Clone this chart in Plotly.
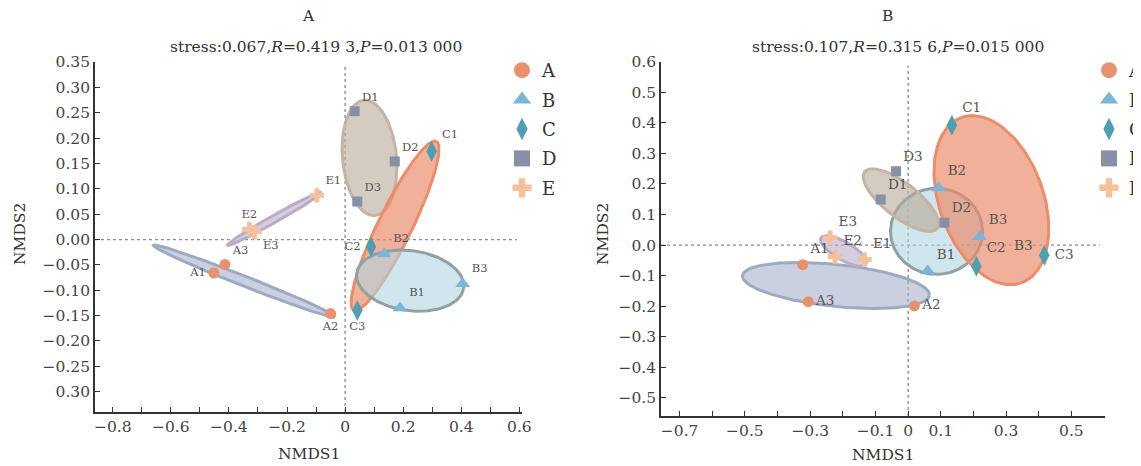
import numpy as np
import plotly.graph_objects as go

W, H = 1141, 466
OFF = 8  # page body margin: shift layout so it lines up with the window
SERIF = "DejaVu Serif"

# ---------------- data ----------------
groups = ["A", "B", "C", "D", "E"]
sample_ids = ["1", "2", "3"]

# Panel A (left) NMDS scores, samples 1,2,3
left_A_x = [-0.452, -0.050, -0.414]
left_A_y = [-0.066, -0.146, -0.049]
left_B_x = [0.189, 0.134, 0.405]
left_B_y = [-0.135, -0.028, -0.087]
left_C_x = [0.298, 0.089, 0.042]
left_C_y = [0.174, -0.014, -0.140]
left_D_x = [0.033, 0.171, 0.042]
left_D_y = [0.253, 0.154, 0.075]
left_E_x = [-0.097, -0.330, -0.312]
left_E_y = [0.087, 0.020, 0.015]

# Panel B (right) NMDS scores, samples 1,2,3
right_A_x = [-0.323, 0.019, -0.306]
right_A_y = [-0.064, -0.199, -0.185]
right_B_x = [0.060, 0.093, 0.219]
right_B_y = [-0.085, 0.187, 0.027]
right_C_x = [0.134, 0.209, 0.417]
right_C_y = [0.392, -0.069, -0.033]
right_D_x = [-0.084, 0.111, -0.037]
right_D_y = [0.149, 0.073, 0.242]
right_E_x = [-0.134, -0.224, -0.239]
right_E_y = [-0.047, -0.038, 0.024]

# group ellipses: centre (data), semi-axes (px), angle (deg)
left_ell_cx = {"A": -0.347, "B": 0.224, "C": 0.172, "D": 0.084, "E": -0.243}
left_ell_cy = {"A": -0.082, "B": -0.081, "C": 0.027, "D": 0.161, "E": 0.041}
left_ell_a = {"A": 97.7, "B": 54, "C": 94, "D": 58, "E": 54}
left_ell_b = {"A": 5, "B": 30, "C": 17, "D": 27, "E": 3.5}
left_ell_ang = {"A": -21.5, "B": -8, "C": 64, "D": 95.5, "E": 29.4}

right_ell_cx = {"A": -0.221, "B": 0.087, "C": 0.255, "D": -0.022, "E": -0.198}
right_ell_cy = {"A": -0.132, "B": 0.045, "C": 0.147, "D": 0.147, "E": -0.019}
right_ell_a = {"A": 94, "B": 46, "C": 88, "D": 46, "E": 26}
right_ell_b = {"A": 21, "B": 43, "C": 52, "D": 17, "E": 9}
right_ell_ang = {"A": -6, "B": 0, "C": 110, "D": -38, "E": -30}

# tick labels
left_xticks = [-0.8, -0.7, -0.6, -0.5, -0.4, -0.3, -0.2, -0.1, 0.0, 0.1, 0.2, 0.3, 0.4, 0.5, 0.6]
left_xtext = ["−0.8", "", "−0.6", "", "−0.4", "", "−0.2", "", "0", "", "0.2", "", "0.4", "", "0.6"]
left_yticks = [-0.30, -0.25, -0.20, -0.15, -0.10, -0.05, 0.0, 0.05, 0.10, 0.15, 0.20, 0.25, 0.30, 0.35]
left_ytext = ["0.30", "−0.25", "−0.20", "−0.15", "−0.10", "−0.05", "0.00",
              "0.05", "0.10", "0.15", "0.20", "0.25", "0.30", "0.35"]
right_xticks = [-0.7, -0.6, -0.5, -0.4, -0.3, -0.2, -0.1, 0.0, 0.1, 0.2, 0.3, 0.4, 0.5]
right_xtext = ["−0.7", "", "−0.5", "", "−0.3", "", "−0.1", "0", "0.1", "", "0.3", "", "0.5"]
right_yticks = [-0.5, -0.4, -0.3, -0.2, -0.1, 0.0, 0.1, 0.2, 0.3, 0.4, 0.5, 0.6]
right_ytext = ["−0.5", "−0.4", "−0.3", "−0.2", "−0.1", "0.0", "0.1", "0.2", "0.3", "0.4", "0.5", "0.6"]

# ---------------- styles ----------------
marker_color = {"A": "#e8916d", "B": "#7ab5da", "C": "#4f9fb3", "D": "#8890a8", "E": "#f6c09a"}
marker_symbol = {"A": "circle", "B": "triangle-up", "C": "diamond-tall", "D": "square", "E": "cross"}
marker_size = {"A": 11, "B": 13, "C": 15, "D": 10, "E": 12}
ell_fill = {"A": "rgba(168,177,205,0.6)", "B": "rgba(178,214,224,0.6)", "C": "rgba(234,138,104,0.68)",
            "D": "rgba(184,168,152,0.6)", "E": "rgba(188,172,204,0.6)"}
ell_line = {"A": "#9daac2", "B": "#8ea2a4", "C": "#ec8d6a", "D": "#c4b4a4", "E": "#b8adc7"}

left_textpos = {"A": ["middle left", "bottom center", "top right"],
                "B": ["top right", "top right", "top right"],
                "C": ["top right", "middle left", "bottom center"],
                "D": ["top right", "top right", "top right"],
                "E": ["top right", "top center", "bottom right"]}
right_textpos = {"A": ["top right", "middle right", "middle right"],
                 "B": ["top right", "top right", "top right"],
                 "C": ["top right", "top right", "middle right"],
                 "D": ["top right", "top right", "top right"],
                 "E": ["top right", "top right", "top right"]}


def px_x(v):
    return (v - OFF) / W


def px_y(v):
    return 1 - (v - OFF) / H


left_xdom = [px_x(95), px_x(522)]
left_ydom = [px_y(412), px_y(62)]
left_xr = [-0.861, 0.609]
left_yr = [-0.34, 0.35]
right_xdom = [px_x(661), px_x(1105)]
right_ydom = [px_y(416), px_y(61.7)]
right_xr = [-0.757, 0.603]
right_yr = [-0.559, 0.60]

left_pts = {"A": (left_A_x, left_A_y), "B": (left_B_x, left_B_y), "C": (left_C_x, left_C_y),
            "D": (left_D_x, left_D_y), "E": (left_E_x, left_E_y)}
right_pts = {"A": (right_A_x, right_A_y), "B": (right_B_x, right_B_y), "C": (right_C_x, right_C_y),
             "D": (right_D_x, right_D_y), "E": (right_E_x, right_E_y)}


def ellipse(cx, cy, a, b, ang, sx, sy):
    t = np.linspace(0, 2 * np.pi, 181)
    th = np.deg2rad(ang)
    px = a * np.cos(t) * np.cos(th) - b * np.sin(t) * np.sin(th)
    py = a * np.cos(t) * np.sin(th) + b * np.sin(t) * np.cos(th)
    return cx + px / sx, cy + py / sy


fig = go.Figure()

panels = [
    dict(pts=left_pts, cx=left_ell_cx, cy=left_ell_cy, a=left_ell_a, b=left_ell_b, ang=left_ell_ang,
         xdom=left_xdom, ydom=left_ydom, xr=left_xr, yr=left_yr, xa="x", ya="y",
         order=["D", "C", "B", "A", "E"], tpos=left_textpos, tsize=11.5, legend="legend"),
    dict(pts=right_pts, cx=right_ell_cx, cy=right_ell_cy, a=right_ell_a, b=right_ell_b, ang=right_ell_ang,
         xdom=right_xdom, ydom=right_ydom, xr=right_xr, yr=right_yr, xa="x2", ya="y2",
         order=["B", "D", "C", "A", "E"], tpos=right_textpos, tsize=13.5, legend="legend2"),
]

for p in panels:
    sx = (p["xdom"][1] - p["xdom"][0]) * W / (p["xr"][1] - p["xr"][0])
    sy = (p["ydom"][1] - p["ydom"][0]) * H / (p["yr"][1] - p["yr"][0])
    # zero reference lines
    fig.add_trace(go.Scatter(x=[0, 0], y=[p["yr"][0], p["yr"][1] - 0.012 * (p["yr"][1] - p["yr"][0])],
                             mode="lines", line=dict(color="#8a8a8a", width=1.3, dash="dot"),
                             xaxis=p["xa"], yaxis=p["ya"], showlegend=False, hoverinfo="skip"))
    fig.add_trace(go.Scatter(x=[p["xr"][0], p["xr"][1] - 0.012 * (p["xr"][1] - p["xr"][0])], y=[0, 0],
                             mode="lines", line=dict(color="#8a8a8a", width=1.3, dash="dot"),
                             xaxis=p["xa"], yaxis=p["ya"], showlegend=False, hoverinfo="skip"))
    for g in p["order"]:
        ex, ey = ellipse(p["cx"][g], p["cy"][g], p["a"][g], p["b"][g], p["ang"][g], sx, sy)
        fig.add_trace(go.Scatter(x=ex, y=ey, mode="lines", fill="toself", fillcolor=ell_fill[g],
                                 line=dict(color=ell_line[g], width=3), xaxis=p["xa"], yaxis=p["ya"],
                                 showlegend=False, hoverinfo="skip"))
    for g in groups:
        xs, ys = p["pts"][g]
        fig.add_trace(go.Scatter(x=xs, y=ys, mode="markers+text",
                                 text=[g + s for s in sample_ids], textposition=p["tpos"][g],
                                 textfont=dict(family=SERIF, size=p["tsize"], color="#555555"),
                                 marker=dict(symbol=marker_symbol[g], size=marker_size[g],
                                             color=marker_color[g], line=dict(width=0)),
                                 xaxis=p["xa"], yaxis=p["ya"], showlegend=False, name=g))
    for g in groups:
        fig.add_trace(go.Scatter(x=[None], y=[None], mode="markers", name=g,
                                 marker=dict(symbol=marker_symbol[g], size=16, color=marker_color[g]),
                                 xaxis=p["xa"], yaxis=p["ya"], showlegend=True, legend=p["legend"],
                                 legendgroup=p["legend"] + g))

# stray label in panel B
fig.add_annotation(x=0.354, y=0.0, xref="x2", yref="y2", text="B3", showarrow=False,
                   font=dict(family=SERIF, size=13.5, color="#555555"))

axis_common = dict(showline=True, linecolor="#333333", linewidth=1.6, ticks="inside", ticklen=5,
                   tickwidth=1.4, tickcolor="#333333", showgrid=False, zeroline=False,
                   tickfont=dict(family=SERIF, size=15.5, color="#444444"))

legend_common = dict(xanchor="left", yanchor="top", bgcolor="rgba(0,0,0,0)",
                     font=dict(family=SERIF, size=18, color="#333333"), tracegroupgap=3,
                     itemsizing="trace")

fig.update_layout(
    width=W, height=H, margin=dict(l=0, r=0, t=0, b=0, autoexpand=False),
    paper_bgcolor="white", plot_bgcolor="white",
    xaxis=dict(domain=left_xdom, range=left_xr, anchor="y", tickmode="array",
               tickvals=left_xticks, ticktext=left_xtext, **axis_common),
    yaxis=dict(domain=left_ydom, range=left_yr, anchor="x", tickmode="array",
               tickvals=left_yticks, ticktext=left_ytext, **axis_common),
    xaxis2=dict(domain=right_xdom, range=right_xr, anchor="y2", tickmode="array",
                tickvals=right_xticks, ticktext=right_xtext, **axis_common),
    yaxis2=dict(domain=right_ydom, range=right_yr, anchor="x2", tickmode="array",
                tickvals=right_yticks, ticktext=right_ytext, **axis_common),
    legend=dict(x=px_x(502), y=px_y(52), **legend_common),
    legend2=dict(x=px_x(1089), y=px_y(52), **legend_common),
    showlegend=True,
)

ann_font = dict(family=SERIF, size=15.5, color="#333333")
texts = [
    ("A", 308, 16), ("stress:0.067,<i>R</i>=0.419 3,<i>P</i>=0.013 000", 316, 47),
    ("B", 887, 16), ("stress:0.107,<i>R</i>=0.315 6,<i>P</i>=0.015 000", 898, 47),
    ("NMDS1", 309, 454), ("NMDS1", 883, 455),
]
for t, x, y in texts:
    fig.add_annotation(x=px_x(x), y=px_y(y), xref="paper", yref="paper", text=t, showarrow=False,
                       xanchor="center", yanchor="middle", font=ann_font)
for x in (20, 603):
    fig.add_annotation(x=px_x(x), y=px_y(234), xref="paper", yref="paper", text="NMDS2",
                       showarrow=False, textangle=-90, xanchor="center", yanchor="middle", font=ann_font)

fig.write_html("out.html")
